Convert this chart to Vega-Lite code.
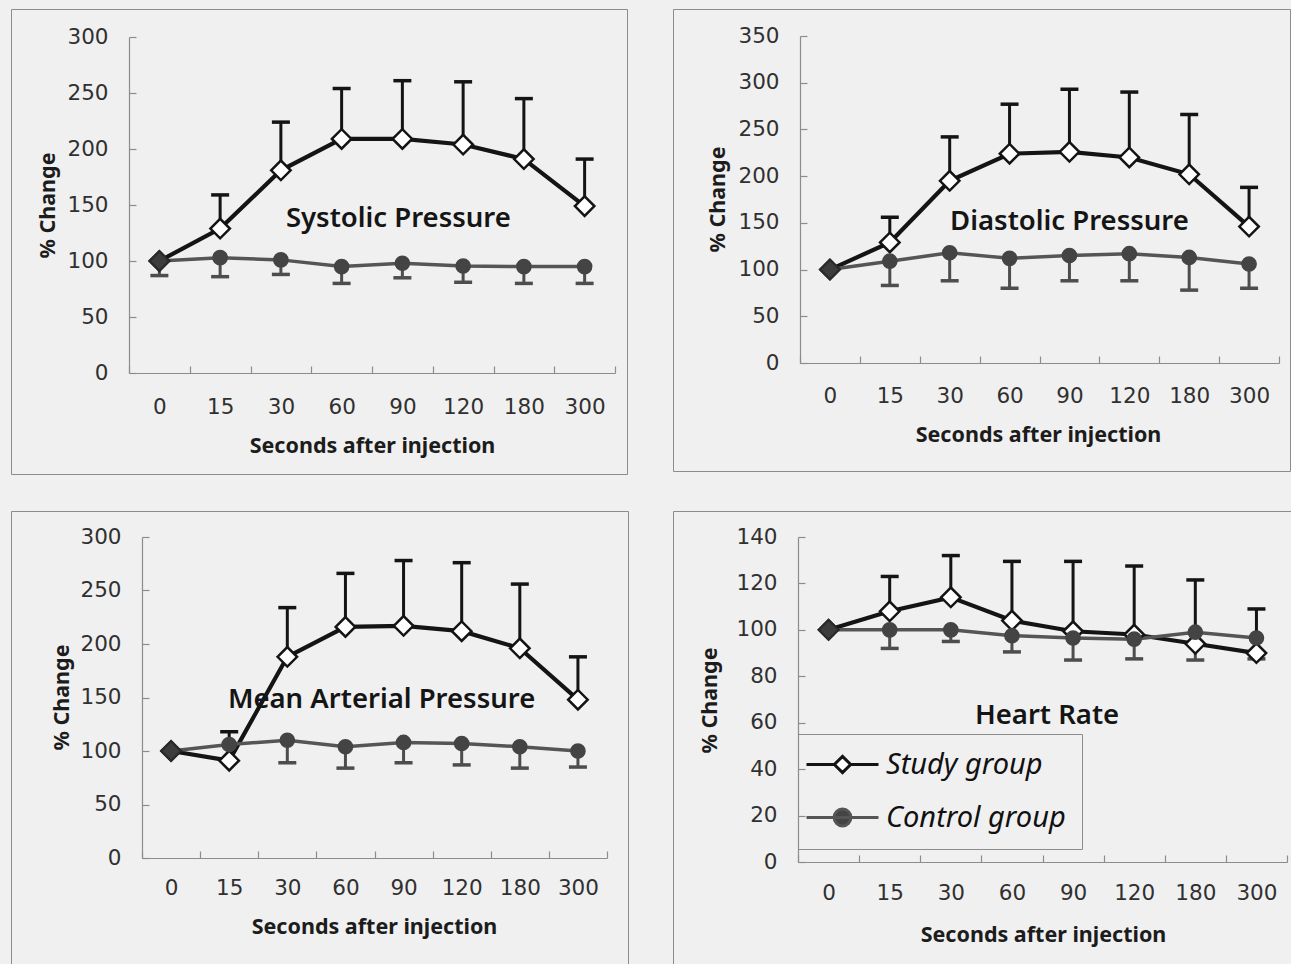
{
  "$schema": "https://vega.github.io/schema/vega-lite/v6.json",
  "background": "#f0f0f0",
  "padding": {"left": 10, "top": 8, "right": 0, "bottom": 0},
  "spacing": 35,
  "config": {
    "view": {"stroke": "#8c8c8c", "strokeWidth": 1},
    "font": "Noto Sans",
    "axis": {"grid": false, "domainColor": "#8c8c8c", "domainWidth": 1.2, "tickColor": "#8c8c8c", "tickWidth": 1.2, "tickSize": -7,
      "labelFont": "DejaVu Sans", "labelFontSize": 21.5, "labelColor": "#303030",
      "titleFont": "Noto Sans", "titleFontSize": 21.5, "titleFontWeight": "bold", "titleColor": "#1c1c1c", "titleBaseline": "alphabetic"},
    "axisX": {"tickBand": "extent", "labelAngle": 0, "labelBaseline": "alphabetic", "labelFlush": false},
    "axisY": {"labelBaseline": "middle", "titleAngle": 270}
  },
  "datasets": {
    "d": [
      {"p": "SBP", "t": "0", "g": "Study group", "v": 100, "e": null},
      {"p": "SBP", "t": "15", "g": "Study group", "v": 129, "e": 159},
      {"p": "SBP", "t": "30", "g": "Study group", "v": 181, "e": 224},
      {"p": "SBP", "t": "60", "g": "Study group", "v": 209, "e": 254},
      {"p": "SBP", "t": "90", "g": "Study group", "v": 209, "e": 261},
      {"p": "SBP", "t": "120", "g": "Study group", "v": 204, "e": 260},
      {"p": "SBP", "t": "180", "g": "Study group", "v": 191, "e": 245},
      {"p": "SBP", "t": "300", "g": "Study group", "v": 149, "e": 191},
      {"p": "SBP", "t": "0", "g": "Control group", "v": 100, "e": 87},
      {"p": "SBP", "t": "15", "g": "Control group", "v": 103, "e": 86},
      {"p": "SBP", "t": "30", "g": "Control group", "v": 101, "e": 88},
      {"p": "SBP", "t": "60", "g": "Control group", "v": 95, "e": 80},
      {"p": "SBP", "t": "90", "g": "Control group", "v": 98, "e": 85},
      {"p": "SBP", "t": "120", "g": "Control group", "v": 95.5, "e": 81},
      {"p": "SBP", "t": "180", "g": "Control group", "v": 95, "e": 80},
      {"p": "SBP", "t": "300", "g": "Control group", "v": 95, "e": 80},
      {"p": "DBP", "t": "0", "g": "Study group", "v": 100, "e": null},
      {"p": "DBP", "t": "15", "g": "Study group", "v": 129, "e": 156},
      {"p": "DBP", "t": "30", "g": "Study group", "v": 195, "e": 242},
      {"p": "DBP", "t": "60", "g": "Study group", "v": 224, "e": 277},
      {"p": "DBP", "t": "90", "g": "Study group", "v": 226, "e": 293},
      {"p": "DBP", "t": "120", "g": "Study group", "v": 220, "e": 290},
      {"p": "DBP", "t": "180", "g": "Study group", "v": 202, "e": 266},
      {"p": "DBP", "t": "300", "g": "Study group", "v": 146, "e": 188},
      {"p": "DBP", "t": "0", "g": "Control group", "v": 100, "e": null},
      {"p": "DBP", "t": "15", "g": "Control group", "v": 109, "e": 83},
      {"p": "DBP", "t": "30", "g": "Control group", "v": 118, "e": 88},
      {"p": "DBP", "t": "60", "g": "Control group", "v": 112, "e": 80},
      {"p": "DBP", "t": "90", "g": "Control group", "v": 115, "e": 88},
      {"p": "DBP", "t": "120", "g": "Control group", "v": 117, "e": 88},
      {"p": "DBP", "t": "180", "g": "Control group", "v": 113, "e": 78},
      {"p": "DBP", "t": "300", "g": "Control group", "v": 106, "e": 80},
      {"p": "MAP", "t": "0", "g": "Study group", "v": 100, "e": null},
      {"p": "MAP", "t": "15", "g": "Study group", "v": 91, "e": 118},
      {"p": "MAP", "t": "30", "g": "Study group", "v": 188, "e": 234},
      {"p": "MAP", "t": "60", "g": "Study group", "v": 216, "e": 266},
      {"p": "MAP", "t": "90", "g": "Study group", "v": 217, "e": 278},
      {"p": "MAP", "t": "120", "g": "Study group", "v": 212, "e": 276},
      {"p": "MAP", "t": "180", "g": "Study group", "v": 196, "e": 256},
      {"p": "MAP", "t": "300", "g": "Study group", "v": 148, "e": 188},
      {"p": "MAP", "t": "0", "g": "Control group", "v": 100, "e": null},
      {"p": "MAP", "t": "15", "g": "Control group", "v": 106, "e": null},
      {"p": "MAP", "t": "30", "g": "Control group", "v": 110, "e": 89},
      {"p": "MAP", "t": "60", "g": "Control group", "v": 104, "e": 84},
      {"p": "MAP", "t": "90", "g": "Control group", "v": 108, "e": 89},
      {"p": "MAP", "t": "120", "g": "Control group", "v": 107, "e": 87},
      {"p": "MAP", "t": "180", "g": "Control group", "v": 104, "e": 84},
      {"p": "MAP", "t": "300", "g": "Control group", "v": 100, "e": 85},
      {"p": "HR", "t": "0", "g": "Study group", "v": 100, "e": null},
      {"p": "HR", "t": "15", "g": "Study group", "v": 108, "e": 123},
      {"p": "HR", "t": "30", "g": "Study group", "v": 114, "e": 132},
      {"p": "HR", "t": "60", "g": "Study group", "v": 104, "e": 129.5},
      {"p": "HR", "t": "90", "g": "Study group", "v": 99.4, "e": 129.5},
      {"p": "HR", "t": "120", "g": "Study group", "v": 98, "e": 127.5},
      {"p": "HR", "t": "180", "g": "Study group", "v": 94, "e": 121.5},
      {"p": "HR", "t": "300", "g": "Study group", "v": 90, "e": 109},
      {"p": "HR", "t": "0", "g": "Control group", "v": 100, "e": null},
      {"p": "HR", "t": "15", "g": "Control group", "v": 100, "e": 92},
      {"p": "HR", "t": "30", "g": "Control group", "v": 100, "e": 95},
      {"p": "HR", "t": "60", "g": "Control group", "v": 97.5, "e": 90.5},
      {"p": "HR", "t": "90", "g": "Control group", "v": 96.5, "e": 87},
      {"p": "HR", "t": "120", "g": "Control group", "v": 96, "e": 87.5},
      {"p": "HR", "t": "180", "g": "Control group", "v": 99, "e": 87},
      {"p": "HR", "t": "300", "g": "Control group", "v": 96.5, "e": 87.5}
    ]
  },
  "vconcat": [
    {
      "spacing": 44,
      "hconcat": [
        {
          "width": 616, "height": 465,
          "data": {"name": "d"},
          "transform": [{"filter": "datum.p === 'SBP'"}],
          "encoding": {
            "x": {"field": "t", "type": "ordinal", "sort": null,
              "scale": {"type": "band", "domain": ["0","15","30","60","90","120","180","300"], "range": [118, 604], "paddingInner": 0, "paddingOuter": 0},
              "axis": {"title": "Seconds after injection", "offset": -101, "labelPadding": 47, "titleX": 361, "titleY": 79}},
            "y": {"field": "v", "type": "quantitative",
              "scale": {"domain": [0, 300], "range": [364, 28], "nice": false, "zero": false},
              "axis": {"title": "% Change", "offset": -118, "values": [0,50,100,150,200,250,300], "labelPadding": 28, "titleX": -75, "titleY": 196}}
          },
          "layer": [
            {"transform": [{"filter": "datum.g === 'Study group'"}], "mark": {"type": "line", "color": "#141414", "strokeWidth": 4.2}},
            {"transform": [{"filter": "datum.g === 'Study group' && datum.e != null"}], "mark": {"type": "rule", "color": "#141414", "strokeWidth": 3}, "encoding": {"y2": {"field": "e"}}},
            {"transform": [{"filter": "datum.g === 'Study group' && datum.e != null"}], "mark": {"type": "tick", "color": "#141414", "size": 18, "thickness": 3.5, "opacity": 1}, "encoding": {"y": {"field": "e", "type": "quantitative"}}},
            {"transform": [{"filter": "datum.g === 'Control group'"}], "mark": {"type": "line", "color": "#555555", "strokeWidth": 3.5}},
            {"transform": [{"filter": "datum.g === 'Control group' && datum.e != null"}], "mark": {"type": "rule", "color": "#4d4d4d", "strokeWidth": 3}, "encoding": {"y2": {"field": "e"}}},
            {"transform": [{"filter": "datum.g === 'Control group' && datum.e != null"}], "mark": {"type": "tick", "color": "#4d4d4d", "size": 18, "thickness": 3.5, "opacity": 1}, "encoding": {"y": {"field": "e", "type": "quantitative"}}},
            {"transform": [{"filter": "datum.g === 'Study group'"}], "mark": {"type": "point", "shape": "diamond", "filled": true, "fill": "#ffffff", "stroke": "#141414", "strokeWidth": 2.5, "size": 380, "opacity": 1}},
            {"transform": [{"filter": "datum.g === 'Control group'"}], "mark": {"type": "point", "shape": "circle", "filled": true, "fill": "#444444", "stroke": "#444444", "strokeWidth": 1.5, "size": 200, "opacity": 1}},
            {"transform": [{"filter": "datum.g === 'Study group' && datum.t === '0'"}], "mark": {"type": "point", "shape": "diamond", "filled": true, "fill": "#3c3c3c", "stroke": "#2a2a2a", "strokeWidth": 2, "size": 380, "opacity": 1}},
            {"transform": [{"filter": "datum.g === 'Study group' && datum.t === '0'"}], "mark": {"type": "text", "text": "Systolic Pressure", "font": "Noto Sans", "fontSize": 27.5, "fontWeight": 600, "color": "#151515", "baseline": "alphabetic", "align": "center", "dx": -4},
              "encoding": {"x": {"datum": "90", "type": "ordinal"}, "y": {"datum": 130.4, "type": "quantitative"}}}
          ]
        },
        {
          "width": 617, "height": 462,
          "data": {"name": "d"},
          "transform": [{"filter": "datum.p === 'DBP'"}],
          "encoding": {
            "x": {"field": "t", "type": "ordinal", "sort": null,
              "scale": {"type": "band", "domain": ["0","15","30","60","90","120","180","300"], "range": [127, 606], "paddingInner": 0, "paddingOuter": 0},
              "axis": {"title": "Seconds after injection", "offset": -108, "labelPadding": 46, "titleX": 365, "titleY": 78}},
            "y": {"field": "v", "type": "quantitative",
              "scale": {"domain": [0, 350], "range": [354, 27], "nice": false, "zero": false},
              "axis": {"title": "% Change", "offset": -127, "values": [0,50,100,150,200,250,300,350], "labelPadding": 28, "titleX": -76, "titleY": 190}}
          },
          "layer": [
            {"transform": [{"filter": "datum.g === 'Study group'"}], "mark": {"type": "line", "color": "#141414", "strokeWidth": 4.2}},
            {"transform": [{"filter": "datum.g === 'Study group' && datum.e != null"}], "mark": {"type": "rule", "color": "#141414", "strokeWidth": 3}, "encoding": {"y2": {"field": "e"}}},
            {"transform": [{"filter": "datum.g === 'Study group' && datum.e != null"}], "mark": {"type": "tick", "color": "#141414", "size": 18, "thickness": 3.5, "opacity": 1}, "encoding": {"y": {"field": "e", "type": "quantitative"}}},
            {"transform": [{"filter": "datum.g === 'Control group'"}], "mark": {"type": "line", "color": "#555555", "strokeWidth": 3.5}},
            {"transform": [{"filter": "datum.g === 'Control group' && datum.e != null"}], "mark": {"type": "rule", "color": "#4d4d4d", "strokeWidth": 3}, "encoding": {"y2": {"field": "e"}}},
            {"transform": [{"filter": "datum.g === 'Control group' && datum.e != null"}], "mark": {"type": "tick", "color": "#4d4d4d", "size": 18, "thickness": 3.5, "opacity": 1}, "encoding": {"y": {"field": "e", "type": "quantitative"}}},
            {"transform": [{"filter": "datum.g === 'Study group'"}], "mark": {"type": "point", "shape": "diamond", "filled": true, "fill": "#ffffff", "stroke": "#141414", "strokeWidth": 2.5, "size": 380, "opacity": 1}},
            {"transform": [{"filter": "datum.g === 'Control group'"}], "mark": {"type": "point", "shape": "circle", "filled": true, "fill": "#444444", "stroke": "#444444", "strokeWidth": 1.5, "size": 200, "opacity": 1}},
            {"transform": [{"filter": "datum.g === 'Study group' && datum.t === '0'"}], "mark": {"type": "point", "shape": "diamond", "filled": true, "fill": "#3c3c3c", "stroke": "#2a2a2a", "strokeWidth": 2, "size": 380, "opacity": 1}},
            {"transform": [{"filter": "datum.g === 'Study group' && datum.t === '0'"}], "mark": {"type": "text", "text": "Diastolic Pressure", "font": "Noto Sans", "fontSize": 27.5, "fontWeight": 600, "color": "#151515", "baseline": "alphabetic", "align": "center", "dx": 0},
              "encoding": {"x": {"datum": "90", "type": "ordinal"}, "y": {"datum": 142.4, "type": "quantitative"}}}
          ]
        }
      ]
    },
    {
      "spacing": 43,
      "hconcat": [
        {
          "width": 617, "height": 467,
          "data": {"name": "d"},
          "transform": [{"filter": "datum.p === 'MAP'"}],
          "encoding": {
            "x": {"field": "t", "type": "ordinal", "sort": null,
              "scale": {"type": "band", "domain": ["0","15","30","60","90","120","180","300"], "range": [131, 596], "paddingInner": 0, "paddingOuter": 0},
              "axis": {"title": "Seconds after injection", "offset": -120, "labelPadding": 43, "titleX": 363, "titleY": 75}},
            "y": {"field": "v", "type": "quantitative",
              "scale": {"domain": [0, 300], "range": [347, 26], "nice": false, "zero": false},
              "axis": {"title": "% Change", "offset": -131, "values": [0,50,100,150,200,250,300], "labelPadding": 28, "titleX": -74, "titleY": 186}}
          },
          "layer": [
            {"transform": [{"filter": "datum.g === 'Study group'"}], "mark": {"type": "line", "color": "#141414", "strokeWidth": 4.2}},
            {"transform": [{"filter": "datum.g === 'Study group' && datum.e != null"}], "mark": {"type": "rule", "color": "#141414", "strokeWidth": 3}, "encoding": {"y2": {"field": "e"}}},
            {"transform": [{"filter": "datum.g === 'Study group' && datum.e != null"}], "mark": {"type": "tick", "color": "#141414", "size": 18, "thickness": 3.5, "opacity": 1}, "encoding": {"y": {"field": "e", "type": "quantitative"}}},
            {"transform": [{"filter": "datum.g === 'Control group'"}], "mark": {"type": "line", "color": "#555555", "strokeWidth": 3.5}},
            {"transform": [{"filter": "datum.g === 'Control group' && datum.e != null"}], "mark": {"type": "rule", "color": "#4d4d4d", "strokeWidth": 3}, "encoding": {"y2": {"field": "e"}}},
            {"transform": [{"filter": "datum.g === 'Control group' && datum.e != null"}], "mark": {"type": "tick", "color": "#4d4d4d", "size": 18, "thickness": 3.5, "opacity": 1}, "encoding": {"y": {"field": "e", "type": "quantitative"}}},
            {"transform": [{"filter": "datum.g === 'Study group'"}], "mark": {"type": "point", "shape": "diamond", "filled": true, "fill": "#ffffff", "stroke": "#141414", "strokeWidth": 2.5, "size": 380, "opacity": 1}},
            {"transform": [{"filter": "datum.g === 'Control group'"}], "mark": {"type": "point", "shape": "circle", "filled": true, "fill": "#444444", "stroke": "#444444", "strokeWidth": 1.5, "size": 200, "opacity": 1}},
            {"transform": [{"filter": "datum.g === 'Study group' && datum.t === '0'"}], "mark": {"type": "point", "shape": "diamond", "filled": true, "fill": "#3c3c3c", "stroke": "#2a2a2a", "strokeWidth": 2, "size": 380, "opacity": 1}},
            {"transform": [{"filter": "datum.g === 'Study group' && datum.t === '0'"}], "mark": {"type": "text", "text": "Mean Arterial Pressure", "font": "Noto Sans", "fontSize": 27.5, "fontWeight": 600, "color": "#151515", "baseline": "alphabetic", "align": "center", "dx": -22},
              "encoding": {"x": {"datum": "90", "type": "ordinal"}, "y": {"datum": 140.2, "type": "quantitative"}}}
          ]
        },
        {
          "width": 625, "height": 467,
          "data": {"name": "d"},
          "transform": [{"filter": "datum.p === 'HR'"}],
          "encoding": {
            "x": {"field": "t", "type": "ordinal", "sort": null,
              "scale": {"type": "band", "domain": ["0","15","30","60","90","120","180","300"], "range": [125, 614], "paddingInner": 0, "paddingOuter": 0},
              "axis": {"title": "Seconds after injection", "offset": -116, "labelPadding": 44, "titleX": 370, "titleY": 79}},
            "y": {"field": "v", "type": "quantitative",
              "scale": {"domain": [0, 140], "range": [351, 26], "nice": false, "zero": false},
              "axis": {"title": "% Change", "offset": -125, "values": [0,20,40,60,80,100,120,140], "labelPadding": 28, "titleX": -82, "titleY": 189}}
          },
          "layer": [
            {"transform": [{"filter": "datum.g === 'Study group'"}], "mark": {"type": "line", "color": "#141414", "strokeWidth": 4.2}},
            {"transform": [{"filter": "datum.g === 'Study group' && datum.e != null"}], "mark": {"type": "rule", "color": "#141414", "strokeWidth": 3}, "encoding": {"y2": {"field": "e"}}},
            {"transform": [{"filter": "datum.g === 'Study group' && datum.e != null"}], "mark": {"type": "tick", "color": "#141414", "size": 18, "thickness": 3.5, "opacity": 1}, "encoding": {"y": {"field": "e", "type": "quantitative"}}},
            {"transform": [{"filter": "datum.g === 'Control group'"}], "mark": {"type": "line", "color": "#555555", "strokeWidth": 3.5}},
            {"transform": [{"filter": "datum.g === 'Control group' && datum.e != null"}], "mark": {"type": "rule", "color": "#4d4d4d", "strokeWidth": 3}, "encoding": {"y2": {"field": "e"}}},
            {"transform": [{"filter": "datum.g === 'Control group' && datum.e != null"}], "mark": {"type": "tick", "color": "#4d4d4d", "size": 18, "thickness": 3.5, "opacity": 1}, "encoding": {"y": {"field": "e", "type": "quantitative"}}},
            {"transform": [{"filter": "datum.g === 'Study group'"}], "mark": {"type": "point", "shape": "diamond", "filled": true, "fill": "#ffffff", "stroke": "#141414", "strokeWidth": 2.5, "size": 380, "opacity": 1}},
            {"transform": [{"filter": "datum.g === 'Control group'"}], "mark": {"type": "point", "shape": "circle", "filled": true, "fill": "#444444", "stroke": "#444444", "strokeWidth": 1.5, "size": 200, "opacity": 1}},
            {"transform": [{"filter": "datum.g === 'Study group' && datum.t === '0'"}], "mark": {"type": "point", "shape": "diamond", "filled": true, "fill": "#3c3c3c", "stroke": "#2a2a2a", "strokeWidth": 2, "size": 380, "opacity": 1}},
            {"mark": {"type": "point", "filled": true, "strokeWidth": 3, "size": 576, "opacity": 0},
              "encoding": {
                "shape": {"field": "g", "type": "nominal",
                  "scale": {"domain": ["Study group", "Control group"], "range": ["M-3,0H-0.68M0.68,0H3M0,-0.68L0.68,0L0,0.68L-0.68,0Z", "M-3,0H3M0.7,0A0.7,0.7,0,1,1,-0.7,0A0.7,0.7,0,1,1,0.7,0Z"]},
                  "legend": {"orient": "none", "legendX": 787, "legendY": 725, "title": null, "strokeColor": "#8c8c8c", "padding": 16, "rowPadding": 23,
                    "symbolSize": 576, "symbolStrokeWidth": 3, "symbolOpacity": 1, "symbolOffset": 14, "labelOffset": 29, "labelFontSize": 29, "labelFont": "Noto Sans", "labelFontStyle": "italic", "labelColor": "#111111", "labelLimit": 400}},
                "fill": {"field": "g", "type": "nominal", "scale": {"domain": ["Study group", "Control group"], "range": ["#ffffff", "#444444"]}},
                "stroke": {"field": "g", "type": "nominal", "scale": {"domain": ["Study group", "Control group"], "range": ["#141414", "#555555"]}}
              }},
            {"transform": [{"filter": "datum.g === 'Study group' && datum.t === '0'"}], "mark": {"type": "text", "text": "Heart Rate", "font": "Noto Sans", "fontSize": 27.5, "fontWeight": 600, "color": "#151515", "baseline": "alphabetic", "align": "center", "dx": -26},
              "encoding": {"x": {"datum": "90", "type": "ordinal"}, "y": {"datum": 59.4, "type": "quantitative"}}}
          ]
        }
      ]
    }
  ]
}
